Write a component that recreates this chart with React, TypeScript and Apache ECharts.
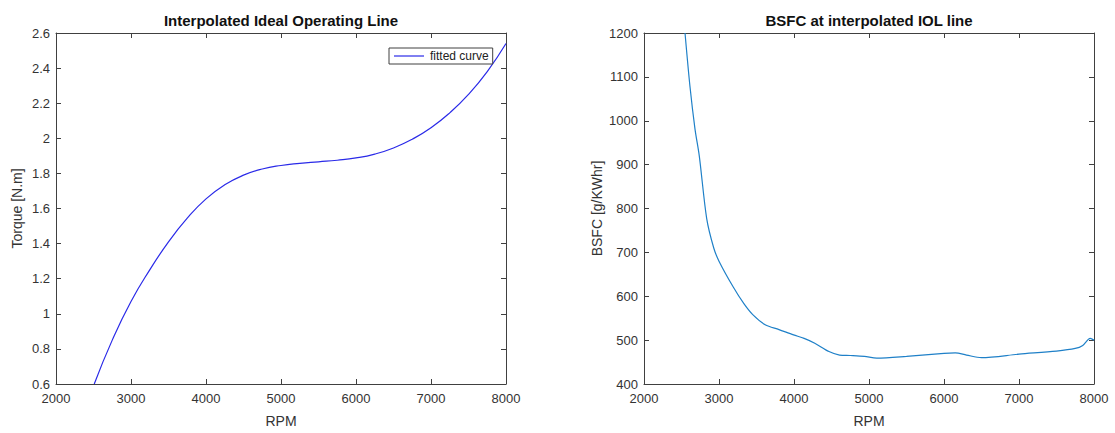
import React, { useEffect, useRef } from "react";
import * as echarts from "echarts";

const torqueRpm = [2510, 2750, 3000, 3250, 3500, 3750, 4000, 4250, 4500, 4750, 5000, 5250, 5500, 5750, 6000, 6250, 6500, 6750, 7000, 7250, 7500, 7750, 8000];
const torqueVal = [0.6, 0.85, 1.07, 1.25, 1.41, 1.545, 1.655, 1.735, 1.79, 1.825, 1.845, 1.857, 1.866, 1.875, 1.888, 1.91, 1.945, 1.995, 2.06, 2.145, 2.25, 2.38, 2.54];

const bsfcRpm = [2547, 2613, 2680, 2737, 2836, 2930, 3000, 3190, 3332, 3450, 3616, 3800, 3994, 4135, 4277, 4466, 4608, 4750, 4939, 5104, 5500, 6000, 6150, 6300, 6500, 7000, 7500, 7750, 7850, 7950, 8000];
const bsfcVal = [1200, 1078, 981, 920, 777, 710, 680, 621, 583, 558, 535, 524, 512, 504, 493, 474, 466, 465, 463, 459, 463, 470, 471, 466, 460, 468, 475, 481, 488, 504, 500];

const leftTitle = "Interpolated Ideal Operating Line";
const rightTitle = "BSFC at interpolated IOL line";
const xName = "RPM";
const leftYName = "Torque [N.m]";
const rightYName = "BSFC [g/KWhr]";
const legendName = "fitted curve";

const FONT = "'Liberation Sans', Arial, Helvetica, sans-serif";
const AX = "#404040";
const TXT = "#333333";
const plain = (v: number) => String(v);

function mainX(grid: number) {
  return {
    type: "value",
    gridIndex: grid,
    min: 2000,
    max: 8000,
    interval: 1000,
    position: "bottom",
    name: xName,
    nameLocation: "middle",
    nameGap: 30,
    nameTextStyle: { fontFamily: FONT, fontSize: 14, color: TXT },
    axisLine: { show: true, lineStyle: { color: AX, width: 1 } },
    axisTick: { show: true, inside: true, length: 5, lineStyle: { color: AX } },
    axisLabel: { show: true, margin: 8, fontFamily: FONT, fontSize: 13, color: TXT, formatter: plain },
    splitLine: { show: false },
  };
}
function topX(grid: number) {
  return {
    type: "value",
    gridIndex: grid,
    min: 2000,
    max: 8000,
    interval: 1000,
    position: "top",
    axisLine: { show: true, onZero: false, lineStyle: { color: AX, width: 1 } },
    axisTick: { show: true, inside: true, length: 5, lineStyle: { color: AX } },
    axisLabel: { show: false },
    splitLine: { show: false },
  };
}
function mainY(grid: number, min: number, max: number, interval: number, name: string, gap: number) {
  return {
    type: "value",
    gridIndex: grid,
    min,
    max,
    interval,
    position: "left",
    name,
    nameLocation: "middle",
    nameGap: gap,
    nameTextStyle: { fontFamily: FONT, fontSize: 14, color: TXT },
    axisLine: { show: true, onZero: false, lineStyle: { color: AX, width: 1 } },
    axisTick: { show: true, inside: true, length: 5, lineStyle: { color: AX } },
    axisLabel: { show: true, margin: 6, fontFamily: FONT, fontSize: 13, color: TXT, formatter: plain },
    splitLine: { show: false },
  };
}
function rightY(grid: number, min: number, max: number, interval: number) {
  return {
    type: "value",
    gridIndex: grid,
    min,
    max,
    interval,
    position: "right",
    axisLine: { show: true, onZero: false, lineStyle: { color: AX, width: 1 } },
    axisTick: { show: true, inside: true, length: 5, lineStyle: { color: AX } },
    axisLabel: { show: false },
    splitLine: { show: false },
  };
}

export default function App() {
  const ref = useRef<HTMLDivElement>(null);
  useEffect(() => {
    if (!ref.current) return;
    const chart = echarts.init(ref.current, null, { renderer: "svg" });
    const torqueData = torqueRpm.map((r, i) => [r, torqueVal[i]]);
    const bsfcData = bsfcRpm.map((r, i) => [r, bsfcVal[i]]);
    chart.setOption({
      animation: false,
      backgroundColor: "#ffffff",
      grid: [
        { left: 56, top: 33, width: 450, height: 354 },
        { left: 644, top: 33, width: 450, height: 354 },
      ],
      xAxis: [mainX(0), topX(0), mainX(1), topX(1)],
      yAxis: [
        mainY(0, 0.6, 2.6, 0.2, leftYName, 32),
        rightY(0, 0.6, 2.6, 0.2),
        mainY(1, 400, 1200, 100, rightYName, 40),
        rightY(1, 400, 1200, 100),
      ],
      legend: {
        data: [{ name: legendName, icon: "rect" }],
        left: 389,
        top: 48,
        itemWidth: 30,
        itemHeight: 1.2,
        itemGap: 4,
        padding: [2, 4, 2, 5],
        borderColor: "#404040",
        borderWidth: 1,
        backgroundColor: "#ffffff",
        textStyle: { fontFamily: FONT, fontSize: 12, color: "#222", padding: [0, 0, 0, 1] },
      },
      graphic: [
        {
          type: "text",
          x: 281,
          y: 20,
          style: { text: leftTitle, align: "center", verticalAlign: "middle", font: `bold 15px ${FONT}`, fill: "#111" },
        },
        {
          type: "text",
          x: 869,
          y: 20,
          style: { text: rightTitle, align: "center", verticalAlign: "middle", font: `bold 15px ${FONT}`, fill: "#111" },
        },
      ],
      series: [
        {
          name: legendName,
          type: "line",
          xAxisIndex: 0,
          yAxisIndex: 0,
          data: torqueData,
          smooth: true,
          symbol: "none",
          lineStyle: { color: "#2a2ae8", width: 1.2 },
          itemStyle: { color: "#2a2ae8" },
        },
        {
          name: "bsfc",
          type: "line",
          xAxisIndex: 2,
          yAxisIndex: 2,
          data: bsfcData,
          smooth: 0.3,
          symbol: "none",
          lineStyle: { color: "#1f80c8", width: 1.2 },
          itemStyle: { color: "#1f80c8" },
        },
      ],
    });
    return () => chart.dispose();
  }, []);
  return <div ref={ref} style={{ position: "absolute", left: 0, top: 0, width: 1115, height: 433 }} />;
}
